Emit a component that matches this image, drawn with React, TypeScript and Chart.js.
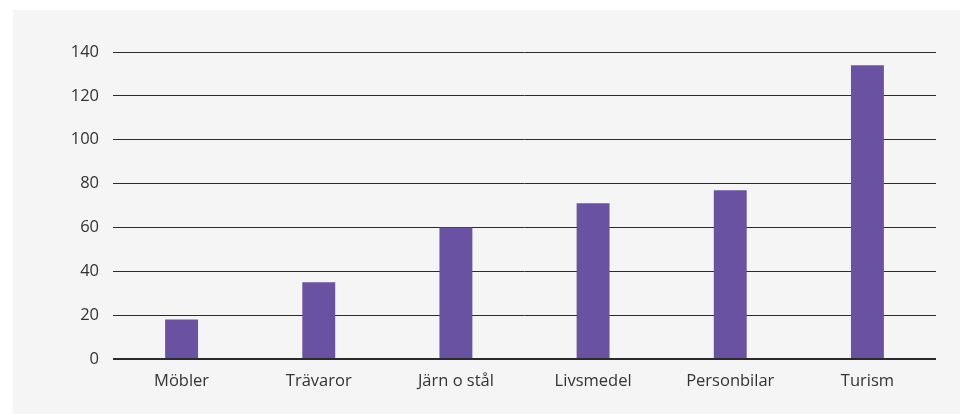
import React, { useEffect, useRef } from "react";
import { Chart, registerables } from "chart.js";

Chart.register(...registerables);

const categories = ["Möbler", "Trävaror", "Järn o stål", "Livsmedel", "Personbilar", "Turism"];
const values = [18, 35, 60, 71, 77, 134];
const yTicks = [0, 20, 40, 60, 80, 100, 120, 140];

export default function App() {
  const ref = useRef<HTMLCanvasElement | null>(null);
  useEffect(() => {
    if (!ref.current) return;
    const chart = new Chart(ref.current, {
      type: "bar",
      data: {
        labels: categories,
        datasets: [
          {
            data: values,
            backgroundColor: "#6a52a2",
            barPercentage: 0.48,
            categoryPercentage: 0.5,
          },
        ],
      },
      options: {
        animation: false,
        responsive: false,
        maintainAspectRatio: false,
        layout: { padding: { top: 42, right: 24, left: 0, bottom: 0 } },
        plugins: { legend: { display: false }, tooltip: { enabled: false } },
        scales: {
          x: {
            grid: { display: false, drawTicks: false },
            border: { display: false },
            ticks: {
              padding: 12,
              color: "#333",
              font: { family: "Open Sans", size: 16.5 },
            },
            afterFit: (s: any) => {
              s.height = 55;
            },
          },
          y: {
            min: 0,
            max: 140,
            afterBuildTicks: (s: any) => {
              s.ticks = yTicks.map((v) => ({ value: v }));
            },
            grid: {
              drawTicks: false,
              color: "#2b2b2b",
              lineWidth: (ctx: any) => (ctx.tick && ctx.tick.value === 0 ? 2 : 1),
            },
            border: { display: false },
            ticks: {
              padding: 14,
              color: "#333",
              font: { family: "Open Sans", size: 16.5 },
            },
            afterFit: (s: any) => {
              s.width = 100;
            },
          },
        },
      },
    });
    return () => chart.destroy();
  }, []);
  return (
    <div
      style={{
        position: "fixed",
        left: 13,
        top: 10,
        width: 947,
        height: 404,
        background: "#f5f5f5",
      }}
    >
      <canvas ref={ref} width={947} height={404} style={{ display: "block", width: 947, height: 404 }} />
    </div>
  );
}
